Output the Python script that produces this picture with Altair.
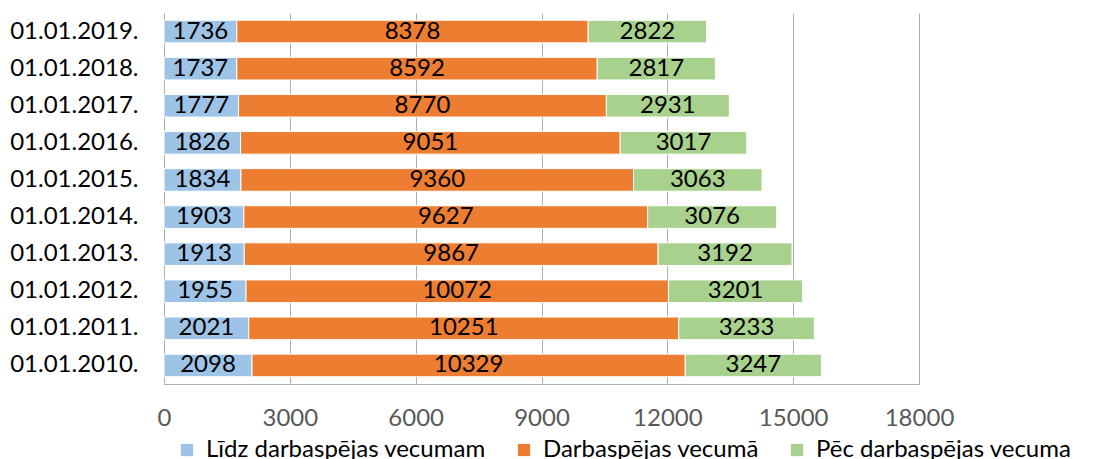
import altair as alt
import pandas as pd

dates = ["01.01.2010.", "01.01.2011.", "01.01.2012.", "01.01.2013.", "01.01.2014.",
         "01.01.2015.", "01.01.2016.", "01.01.2017.", "01.01.2018.", "01.01.2019."]
lidz = [2098, 2021, 1955, 1913, 1903, 1834, 1826, 1777, 1737, 1736]
darb = [10329, 10251, 10072, 9867, 9627, 9360, 9051, 8770, 8592, 8378]
pec = [3247, 3233, 3201, 3192, 3076, 3063, 3017, 2931, 2817, 2822]
series = ["Līdz darbaspējas vecumam", "Darbaspējas vecumā", "Pēc darbaspējas vecuma"]
colors = ["#9DC3E6", "#ED7D31", "#A9D18E"]
x_ticks = [0, 3000, 6000, 9000, 12000, 15000, 18000]

rows = []
for i, d in enumerate(dates):
    for j, (s, v) in enumerate(zip(series, [lidz[i], darb[i], pec[i]])):
        rows.append({"date": d, "series": s, "order": j, "value": v})
df = pd.DataFrame(rows)

y_sort = dates[::-1]
FONT = "Lato"
FS = 24
GRID = "#B0B0B0"

yenc = alt.Y("date:N", sort=y_sort, title=None,
             scale=alt.Scale(paddingInner=0.39, paddingOuter=0.195),
             axis=alt.Axis(ticks=False, labelFont=FONT, labelFontSize=FS, labelColor="black",
                           labelPadding=26, domainColor=GRID, labelLimit=300))

base = alt.Chart(df)
bars = base.mark_bar(stroke="white", strokeWidth=1).encode(
    y=yenc,
    x=alt.X("value:Q", stack="zero", title=None,
            scale=alt.Scale(domain=[0, 18000], nice=False),
            axis=alt.Axis(values=x_ticks, ticks=False, labelFont=FONT, labelFontSize=FS,
                          labelColor="#595959", labelPadding=22, domainColor=GRID,
                          gridColor=GRID, grid=True, format="d", labelFlush=False)),
    color=alt.Color("series:N", scale=alt.Scale(domain=series, range=colors),
                    legend=alt.Legend(title=None, orient="none", direction="horizontal",
                                      columns=3, legendX=11, legendY=425,
                                      symbolType="square", symbolSize=150,
                                      symbolStrokeWidth=0, labelFont=FONT,
                                      labelFontSize=FS, labelColor="#000000",
                                      labelOffset=7, columnPadding=26, labelLimit=400)),
    order=alt.Order("order:Q"),
)

labels = base.transform_stack(
    stack="value", groupby=["date"], sort=[alt.SortField("order")], as_=["x0", "x1"]
).transform_calculate(mid="(datum.x0 + datum.x1) / 2").mark_text(
    font=FONT, fontSize=FS, color="black", baseline="middle"
).encode(
    y=alt.Y("date:N", sort=y_sort),
    x=alt.X("mid:Q"),
    text=alt.Text("value:Q", format="d"),
)

chart = alt.layer(bars, labels).properties(
    width=755, height=371,
    autosize=alt.AutoSizeParams(type="none"),
    padding={"left": 156, "top": 5, "right": 179, "bottom": 80},
).configure_view(stroke="transparent")

chart.save("out.html", embed_options={"renderer": "svg", "actions": False})
